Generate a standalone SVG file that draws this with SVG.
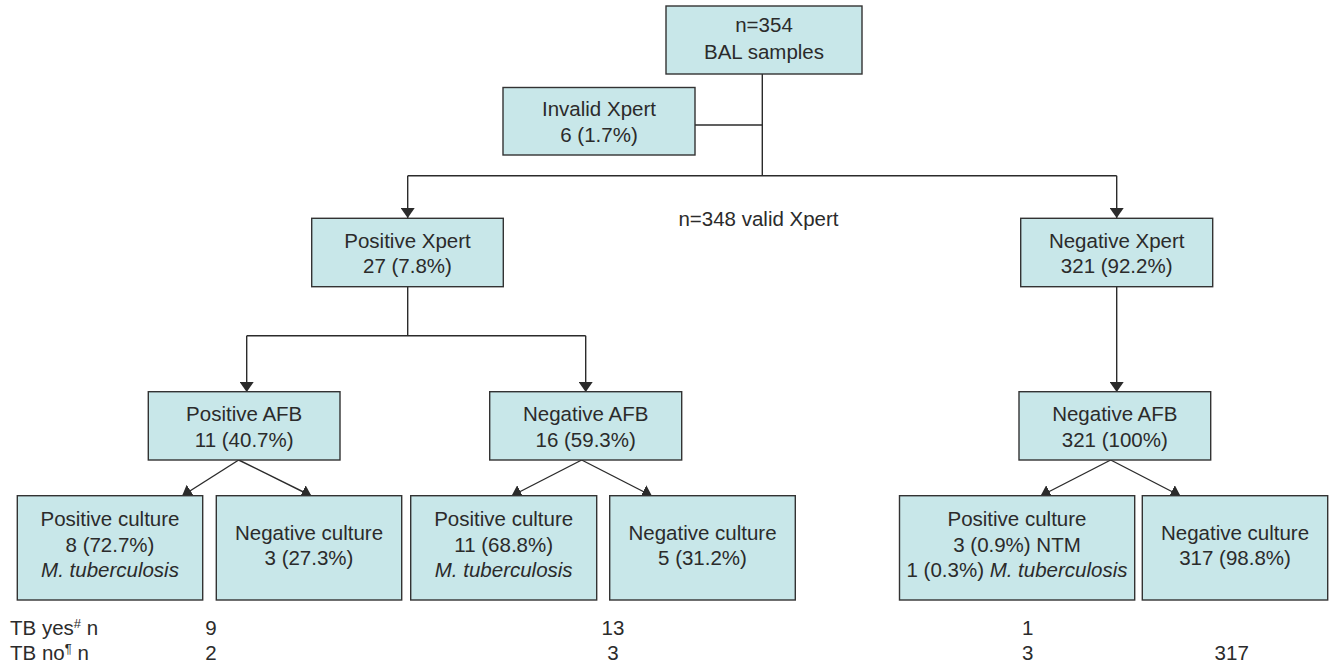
<svg xmlns="http://www.w3.org/2000/svg" width="1330" height="667" viewBox="0 0 1330 667">
<style>
.box{fill:#c8e7e9;stroke:#333;stroke-width:1.4}
.t{font-family:"Liberation Sans",Arial,sans-serif;font-size:20.5px;fill:#2b2b2b;text-anchor:middle}
.l{font-family:"Liberation Sans",Arial,sans-serif;font-size:20.5px;fill:#2b2b2b}
.i{font-style:italic}
.c{fill:none;stroke:#2b2b2b;stroke-width:1.4}
</style>
<defs>
<marker id="ah" viewBox="0 0 10 14" refX="10" refY="7" markerWidth="10" markerHeight="14" markerUnits="userSpaceOnUse" orient="auto">
<path d="M0,0 L10,7 L0,14 z" fill="#2b2b2b"/>
</marker>
</defs>
<rect width="1330" height="667" fill="#fff"/>
<g id="connectors">
<path class="c" d="M762.3,74 V175.7"/>
<path class="c" d="M695,125 H762.3"/>
<path class="c" d="M407.7,175.7 H1116.7"/>
<path class="c" d="M407.7,175.7 V218" marker-end="url(#ah)"/>
<path class="c" d="M1116.7,175.7 V218" marker-end="url(#ah)"/>
<path class="c" d="M407.7,287 V335.7"/>
<path class="c" d="M246.7,335.7 H585.7"/>
<path class="c" d="M246.7,335.7 V392" marker-end="url(#ah)"/>
<path class="c" d="M585.7,335.7 V392" marker-end="url(#ah)"/>
<path class="c" d="M1116.7,287 V392" marker-end="url(#ah)"/>
<path class="c" d="M238.7,460 L182,496" marker-end="url(#ah)"/>
<path class="c" d="M238.7,460 L311.5,496" marker-end="url(#ah)"/>
<path class="c" d="M581.7,460 L511.5,496" marker-end="url(#ah)"/>
<path class="c" d="M581.7,460 L652,496" marker-end="url(#ah)"/>
<path class="c" d="M1110.7,460 L1040.5,496" marker-end="url(#ah)"/>
<path class="c" d="M1110.7,460 L1180.5,496" marker-end="url(#ah)"/>
</g>
<g id="n-bal">
<rect class="box" x="666" y="6" width="196" height="68"/>
<text class="t" x="764" y="32">n=354</text>
<text class="t" x="764" y="58.5">BAL samples</text>
</g>
<g id="n-invalid">
<rect class="box" x="503" y="87.5" width="192" height="67.5"/>
<text class="t" x="599" y="115.7">Invalid Xpert</text>
<text class="t" x="599" y="141.7">6 (1.7%)</text>
</g>
<g id="n-valid-label">
<text class="t" x="758.5" y="226">n=348 valid Xpert</text>
</g>
<g id="n-posxpert">
<rect class="box" x="311.7" y="218.3" width="191.6" height="68.4"/>
<text class="t" x="407.5" y="247.7">Positive Xpert</text>
<text class="t" x="407.5" y="272.7">27 (7.8%)</text>
</g>
<g id="n-negxpert">
<rect class="box" x="1020.7" y="218.3" width="192" height="68.4"/>
<text class="t" x="1116.7" y="247.7">Negative Xpert</text>
<text class="t" x="1116.7" y="272.7">321 (92.2%)</text>
</g>
<g id="n-posafb">
<rect class="box" x="148.3" y="391.7" width="191.7" height="68.3"/>
<text class="t" x="244.2" y="421">Positive AFB</text>
<text class="t" x="244.2" y="446.5">11 (40.7%)</text>
</g>
<g id="n-negafb1">
<rect class="box" x="489.7" y="391.7" width="192" height="68.3"/>
<text class="t" x="585.7" y="421">Negative AFB</text>
<text class="t" x="585.7" y="446.5">16 (59.3%)</text>
</g>
<g id="n-negafb2">
<rect class="box" x="1019" y="391.7" width="191.7" height="68.3"/>
<text class="t" x="1114.8" y="421">Negative AFB</text>
<text class="t" x="1114.8" y="446.5">321 (100%)</text>
</g>
<g id="n-poscult1">
<rect class="box" x="17.3" y="495.7" width="185.4" height="104.3"/>
<text class="t" x="110" y="525.7">Positive culture</text>
<text class="t" x="110" y="551.7">8 (72.7%)</text>
<text class="t i" x="110" y="576.5">M. tuberculosis</text>
</g>
<g id="n-negcult1">
<rect class="box" x="216.3" y="495.7" width="185.4" height="104.3"/>
<text class="t" x="309" y="540">Negative culture</text>
<text class="t" x="309" y="565">3 (27.3%)</text>
</g>
<g id="n-poscult2">
<rect class="box" x="410.7" y="495.7" width="186" height="104.3"/>
<text class="t" x="503.7" y="525.7">Positive culture</text>
<text class="t" x="503.7" y="551.7">11 (68.8%)</text>
<text class="t i" x="503.7" y="576.5">M. tuberculosis</text>
</g>
<g id="n-negcult2">
<rect class="box" x="609.7" y="495.7" width="185.6" height="104.3"/>
<text class="t" x="702.5" y="540">Negative culture</text>
<text class="t" x="702.5" y="565">5 (31.2%)</text>
</g>
<g id="n-poscult3">
<rect class="box" x="899.5" y="495.7" width="235.2" height="104.3"/>
<text class="t" x="1017" y="525.7">Positive culture</text>
<text class="t" x="1017" y="551.7">3 (0.9%) NTM</text>
<text class="t" x="1017" y="576.5">1 (0.3%) <tspan class="i">M. tuberculosis</tspan></text>
</g>
<g id="n-negcult3">
<rect class="box" x="1142.3" y="495.7" width="185.4" height="104.3"/>
<text class="t" x="1235" y="540">Negative culture</text>
<text class="t" x="1235" y="565">317 (98.8%)</text>
</g>
<g id="n-table">
<text class="l" x="10" y="635">TB yes<tspan font-size="13" dy="-7">#</tspan><tspan dy="7"> n</tspan></text>
<text class="l" x="10" y="660">TB no<tspan font-size="13" dy="-7">¶</tspan><tspan dy="7"> n</tspan></text>
<text class="t" x="211" y="635">9</text>
<text class="t" x="211" y="660">2</text>
<text class="t" x="613" y="635">13</text>
<text class="t" x="613" y="660">3</text>
<text class="t" x="1027.7" y="635">1</text>
<text class="t" x="1027.7" y="660">3</text>
<text class="t" x="1231.7" y="660">317</text>
</g>
</svg>
